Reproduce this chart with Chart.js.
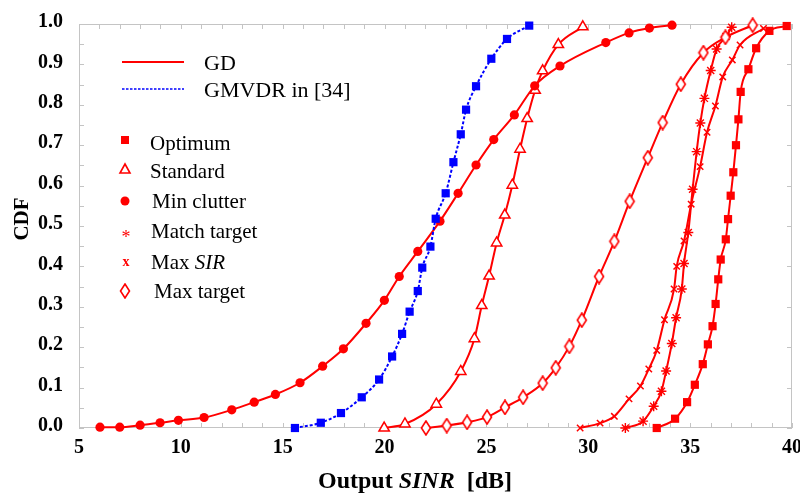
<!DOCTYPE html>
<html>
<head>
<meta charset="utf-8">
<script src="https://cdn.jsdelivr.net/npm/chart.js@4.4.1/dist/chart.umd.min.js"></script>
<style>
    body { margin: 0; background: #ffffff; }
    canvas { display: block; }
</style>
</head>
<body>
<canvas id="grafico-cdf" width="800" height="496"></canvas>
<script>
// eixos
const xTicks = [5, 10, 15, 20, 25, 30, 35, 40];
const yTicks = [0, 0.1, 0.2, 0.3, 0.4, 0.5, 0.6, 0.7, 0.8, 0.9, 1.0];

// series (SINR em dB, CDF)
const gmvdrX = [15.6, 16.87, 17.86, 18.88, 19.73, 20.37, 20.86, 21.23, 21.63, 21.85, 22.25, 22.51, 23.0, 23.38, 23.74, 24.0, 24.49, 25.24, 26.01, 27.1];
const gmvdrY = [0.0, 0.013, 0.037, 0.076, 0.12, 0.177, 0.233, 0.288, 0.339, 0.397, 0.449, 0.518, 0.581, 0.658, 0.727, 0.788, 0.846, 0.914, 0.963, 0.996];

const optimumX = [33.36, 34.26, 34.85, 35.23, 35.62, 35.87, 36.1, 36.25, 36.38, 36.5, 36.75, 36.86, 36.99, 37.12, 37.25, 37.37, 37.48, 37.86, 38.24, 38.89, 39.74];
const optimumY = [0.0, 0.023, 0.064, 0.107, 0.158, 0.207, 0.252, 0.307, 0.368, 0.417, 0.467, 0.517, 0.575, 0.633, 0.7, 0.764, 0.832, 0.888, 0.94, 0.983, 0.995];

const standardX = [19.98, 21.0, 22.54, 23.74, 24.41, 24.77, 25.13, 25.5, 25.9, 26.27, 26.65, 27.0, 27.39, 27.76, 28.53, 29.73];
const standardY = [0.0, 0.01, 0.059, 0.14, 0.221, 0.303, 0.376, 0.458, 0.527, 0.601, 0.69, 0.766, 0.836, 0.884, 0.949, 0.993];

const minClutterX = [6.03, 7.0, 8.0, 8.98, 9.88, 11.14, 12.5, 13.6, 14.64, 15.85, 16.96, 17.98, 19.09, 19.99, 20.72, 21.63, 22.72, 23.61, 24.49, 25.36, 26.37, 27.37, 28.61, 30.86, 32.0, 33.0, 34.11];
const minClutterY = [0.002, 0.002, 0.007, 0.013, 0.019, 0.026, 0.045, 0.064, 0.083, 0.112, 0.153, 0.196, 0.259, 0.316, 0.375, 0.437, 0.512, 0.581, 0.651, 0.714, 0.775, 0.847, 0.896, 0.954, 0.978, 0.99, 0.997];

const matchTargetX = [31.82, 32.69, 33.21, 33.59, 33.82, 34.1, 34.31, 34.59, 34.7, 34.91, 35.12, 35.32, 35.5, 35.7, 36.01, 36.3, 36.76, 37.04];
const matchTargetY = [0.0, 0.017, 0.054, 0.091, 0.141, 0.209, 0.273, 0.344, 0.407, 0.484, 0.591, 0.684, 0.755, 0.816, 0.885, 0.938, 0.969, 0.992];

const maxSirX = [29.6, 30.58, 31.28, 32.0, 32.56, 32.97, 33.36, 33.74, 34.21, 34.34, 34.7, 35.05, 35.49, 35.83, 36.24, 36.6, 37.07, 37.45, 38.6];
const maxSirY = [0.0, 0.012, 0.029, 0.072, 0.104, 0.146, 0.192, 0.268, 0.344, 0.40, 0.463, 0.554, 0.647, 0.732, 0.797, 0.869, 0.911, 0.948, 0.989];

const maxTargetX = [22.03, 23.05, 24.05, 25.03, 25.91, 26.8, 27.76, 28.4, 29.07, 29.68, 30.53, 31.28, 32.03, 32.92, 33.65, 34.54, 35.65, 36.73, 38.07];
const maxTargetY = [0.0, 0.006, 0.014, 0.027, 0.051, 0.076, 0.111, 0.149, 0.202, 0.267, 0.375, 0.462, 0.561, 0.669, 0.756, 0.851, 0.929, 0.967, 0.997];

const VERMELHO = '#ff0000';
const AZUL = '#0000ff';
const FONTE = '"Liberation Serif", "Times New Roman", serif';

function pontos(xs, ys) {
    return xs.map((x, i) => ({ x: x, y: ys[i] }));
}

// losango alto (Max target)
function criarLosango() {
    const c = document.createElement('canvas');
    c.width = 12; c.height = 16;
    const g = c.getContext('2d');
    g.beginPath();
    g.moveTo(6, 1); g.lineTo(10.5, 8); g.lineTo(6, 15); g.lineTo(1.5, 8); g.closePath();
    g.fillStyle = '#ffffff';
    g.fill();
    g.strokeStyle = VERMELHO;
    g.lineWidth = 1.6;
    g.stroke();
    return c;
}
const losango = criarLosango();

function serie(label, xs, ys, estilo) {
    return Object.assign({
        label: label,
        data: pontos(xs, ys),
        borderColor: VERMELHO,
        backgroundColor: VERMELHO,
        pointBorderColor: VERMELHO,
        borderWidth: 2,
        cubicInterpolationMode: 'monotone',
        clip: false,
        pointBorderWidth: 1.5
    }, estilo);
}

// moldura cinza com marcas para dentro
const moldura = {
    id: 'moldura',
    beforeDatasetsDraw(chart) {
        const ctx = chart.ctx;
        const a = chart.chartArea;
        const x = chart.scales.x;
        const y = chart.scales.y;
        ctx.save();
        ctx.strokeStyle = '#c4c4c4';
        ctx.lineWidth = 1;
        ctx.strokeRect(a.left + 0.5, a.top + 0.5, a.right - a.left - 1, a.bottom - a.top - 1);
        ctx.beginPath();
        for (let v = 5; v <= 40; v++) {
            const px = Math.round(x.getPixelForValue(v)) + 0.5;
            ctx.moveTo(px, a.bottom); ctx.lineTo(px, a.bottom - 5);
            ctx.moveTo(px, a.top); ctx.lineTo(px, a.top + 5);
        }
        for (let i = 0; i <= 20; i++) {
            const py = Math.round(y.getPixelForValue(i * 0.05)) + 0.5;
            ctx.moveTo(a.left, py); ctx.lineTo(a.left + 5, py);
        }
        for (let i = 0; i <= 10; i++) {
            const py = Math.round(y.getPixelForValue(i * 0.1)) + 0.5;
            ctx.moveTo(a.right, py); ctx.lineTo(a.right - 5, py);
        }
        ctx.stroke();
        ctx.restore();
    }
};

// titulos dos eixos e legenda
const textos = {
    id: 'textos',
    afterDraw(chart) {
        const ctx = chart.ctx;
        ctx.save();
        ctx.fillStyle = '#000000';
        ctx.textBaseline = 'middle';

        // titulo eixo x
        const partes = [
            ['bold 24px ' + FONTE, 'Output '],
            ['italic bold 24px ' + FONTE, 'SINR'],
            ['bold 24px ' + FONTE, '  [dB]']
        ];
        let total = 0;
        partes.forEach(p => { ctx.font = p[0]; total += ctx.measureText(p[1]).width; });
        let px = 415 - total / 2;
        partes.forEach(p => {
            ctx.font = p[0];
            ctx.textAlign = 'left';
            ctx.fillText(p[1], px, 482);
            px += ctx.measureText(p[1]).width;
        });

        // titulo eixo y
        ctx.save();
        ctx.translate(23, 219);
        ctx.rotate(-Math.PI / 2);
        ctx.font = 'bold 21px ' + FONTE;
        ctx.textAlign = 'center';
        ctx.fillText('CDF', 0, 0);
        ctx.restore();

        // legenda: linhas
        ctx.lineWidth = 2;
        ctx.strokeStyle = VERMELHO;
        ctx.beginPath(); ctx.moveTo(122, 62); ctx.lineTo(184, 62); ctx.stroke();
        ctx.strokeStyle = AZUL;
        ctx.lineWidth = 1.6;
        ctx.setLineDash([2.5, 1.5]);
        ctx.beginPath(); ctx.moveTo(122, 89); ctx.lineTo(184, 89); ctx.stroke();
        ctx.setLineDash([]);

        ctx.font = '22px ' + FONTE;
        ctx.textAlign = 'left';
        ctx.fillText('GD', 204, 64);
        ctx.fillText('GMVDR in [34]', 204, 91);

        // legenda: marcadores
        ctx.fillStyle = VERMELHO;
        ctx.strokeStyle = VERMELHO;
        ctx.lineWidth = 1.6;
        ctx.fillRect(121, 136, 8, 8);
        ctx.beginPath();
        ctx.moveTo(125, 164); ctx.lineTo(130, 173); ctx.lineTo(120, 173); ctx.closePath();
        ctx.stroke();
        ctx.beginPath(); ctx.arc(125, 201, 4.5, 0, Math.PI * 2); ctx.fill();
        ctx.font = '18px ' + FONTE;
        ctx.textAlign = 'center';
        ctx.fillText('*', 126, 238);
        ctx.font = 'bold 14px ' + FONTE;
        ctx.fillText('x', 126, 262);
        ctx.drawImage(losango, 119, 283);

        ctx.fillStyle = '#000000';
        ctx.textAlign = 'left';
        ctx.font = '21px ' + FONTE;
        ctx.fillText('Optimum', 150, 144);
        ctx.fillText('Standard', 150, 172);
        ctx.fillText('Min clutter', 152, 202);
        ctx.fillText('Match target', 151, 232);
        ctx.fillText('Max ', 151, 263);
        const w = ctx.measureText('Max ').width;
        ctx.font = 'italic 21px ' + FONTE;
        ctx.fillText('SIR', 151 + w, 263);
        ctx.font = '21px ' + FONTE;
        ctx.fillText('Max target', 154, 292);
        ctx.restore();
    }
};

function gerarGrafico() {
    const tela = document.getElementById('grafico-cdf');
    new Chart(tela, {
        type: 'line',
        data: {
            datasets: [
                serie('GMVDR in [34]', gmvdrX, gmvdrY, {
                    borderColor: AZUL, backgroundColor: AZUL, pointBorderColor: AZUL,
                    borderDash: [3, 2], pointStyle: 'rect', pointRadius: 5.8, pointBorderWidth: 0
                }),
                serie('Min clutter', minClutterX, minClutterY, {
                    pointStyle: 'circle', pointRadius: 4.6, pointBorderWidth: 0
                }),
                serie('Standard', standardX, standardY, {
                    pointStyle: 'triangle', pointRadius: 6, pointBackgroundColor: '#ffffff'
                }),
                serie('Max target', maxTargetX, maxTargetY, {
                    pointStyle: losango
                }),
                serie('Max SIR', maxSirX, maxSirY, {
                    pointStyle: 'crossRot', pointRadius: 4.5
                }),
                serie('Match target', matchTargetX, matchTargetY, {
                    pointStyle: 'star', pointRadius: 5, pointBorderWidth: 1.4
                }),
                serie('Optimum', optimumX, optimumY, {
                    pointStyle: 'rect', pointRadius: 5.8, pointBorderWidth: 0
                })
            ]
        },
        options: {
            responsive: false,
            animation: false,
            layout: { padding: { left: 0, right: 8, top: 24, bottom: 0 } },
            plugins: {
                legend: { display: false },
                title: { display: false },
                tooltip: { enabled: false }
            },
            scales: {
                x: {
                    type: 'linear',
                    min: 5,
                    max: 40,
                    afterBuildTicks: s => { s.ticks = xTicks.map(v => ({ value: v })); },
                    afterFit: s => { s.height = 68; s.paddingLeft = 0; s.paddingRight = 0; },
                    grid: { display: false, drawTicks: false },
                    border: { display: false },
                    ticks: {
                        padding: 8,
                        color: '#000000',
                        font: { family: FONTE, size: 20, weight: 'bold' }
                    }
                },
                y: {
                    min: 0,
                    max: 1,
                    afterBuildTicks: s => { s.ticks = yTicks.map(v => ({ value: v })); },
                    afterFit: s => { s.width = 79; s.paddingTop = 0; s.paddingBottom = 0; },
                    grid: { display: false, drawTicks: false },
                    border: { display: false },
                    ticks: {
                        padding: 16,
                        labelOffset: -2,
                        color: '#000000',
                        callback: v => v.toFixed(1),
                        font: { family: FONTE, size: 20, weight: 'bold' }
                    }
                }
            }
        },
        plugins: [moldura, textos]
    });
}

window.addEventListener('load', () => {
    gerarGrafico();
});
</script>
</body>
</html>
